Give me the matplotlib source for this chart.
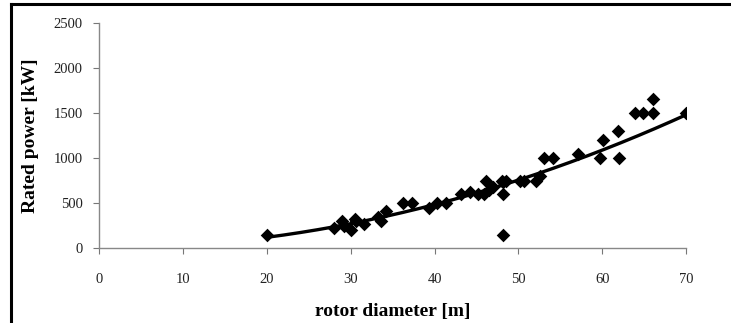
import matplotlib
matplotlib.use("Agg")
import matplotlib.pyplot as plt
import numpy as np

# Turbine rotor diameter [m] vs rated power [kW]
rotor_diameter = [20, 28, 29, 29.2, 30, 30.5, 30.6, 31.6, 33.3, 33.6, 34.2,
                  36.2, 37.3, 39.3, 40.3, 41.3, 43.2, 44.2, 45.2, 45.9, 46.1,
                  46.5, 47.0, 48.1, 48.1, 48.0, 48.5, 48.1, 50.2, 50.6, 52.1,
                  52.6, 53.0, 54.1, 57.1, 59.7, 60.1, 61.9, 62.0, 63.9, 64.9,
                  66.0, 66.0, 70.0]
rated_power = [150, 225, 300, 250, 200, 330, 300, 270, 350, 300, 410,
               500, 500, 450, 500, 500, 600, 620, 600, 600, 750,
               650, 675, 600, 150, 750, 750, 740, 750, 750, 750,
               800, 1000, 1000, 1050, 1000, 1200, 1300, 1000, 1500, 1500,
               1500, 1650, 1500]

x_ticks = [0, 10, 20, 30, 40, 50, 60, 70]
y_ticks = [0, 500, 1000, 1500, 2000, 2500]

# power-law trendline through the points
d = np.array(rotor_diameter)
p = np.array(rated_power)
b, log_a = np.polyfit(np.log(d), np.log(p), 1)
x_fit = np.linspace(d.min(), d.max(), 200)
y_fit = np.exp(log_a) * x_fit ** b

plt.rcParams['font.family'] = ['Liberation Serif', 'DejaVu Serif']

fig = plt.figure(figsize=(7.31, 3.23), dpi=100)
ax = fig.add_axes([0.1358, 0.2313, 0.8029, 0.6985])

ax.plot(x_fit, y_fit, color="black", linewidth=2.4, zorder=2)
ax.scatter(rotor_diameter, rated_power, marker="D", s=48, color="black",
           linewidths=0, zorder=3)

ax.set_xlim(0, 70)
ax.set_ylim(0, 2500)
ax.set_xticks(x_ticks)
ax.set_yticks(y_ticks)
ax.tick_params(axis="both", direction="out", length=4, width=0.8,
               color="#777777", labelsize=10.5, labelcolor="#222222")
ax.tick_params(axis="x", pad=14)
ax.tick_params(axis="y", pad=8)

for side in ("top", "right"):
    ax.spines[side].set_visible(False)
for side in ("left", "bottom"):
    ax.spines[side].set_color("#888888")
    ax.spines[side].set_linewidth(1.0)

ax.set_xlabel("rotor diameter [m]", fontsize=14, fontweight="bold", labelpad=12)
ax.set_ylabel("Rated power [kW]", fontsize=14, fontweight="bold", labelpad=10)

# partial frame around the figure (top and left edges)
fig.add_artist(plt.Line2D([10.5 / 731, 1], [1 - 3.5 / 323, 1 - 3.5 / 323],
                          color="black", linewidth=2.2))
fig.add_artist(plt.Line2D([11 / 731, 11 / 731], [0, 1 - 3.5 / 323],
                          color="black", linewidth=2.2))

fig.savefig("out.png", dpi=100)
